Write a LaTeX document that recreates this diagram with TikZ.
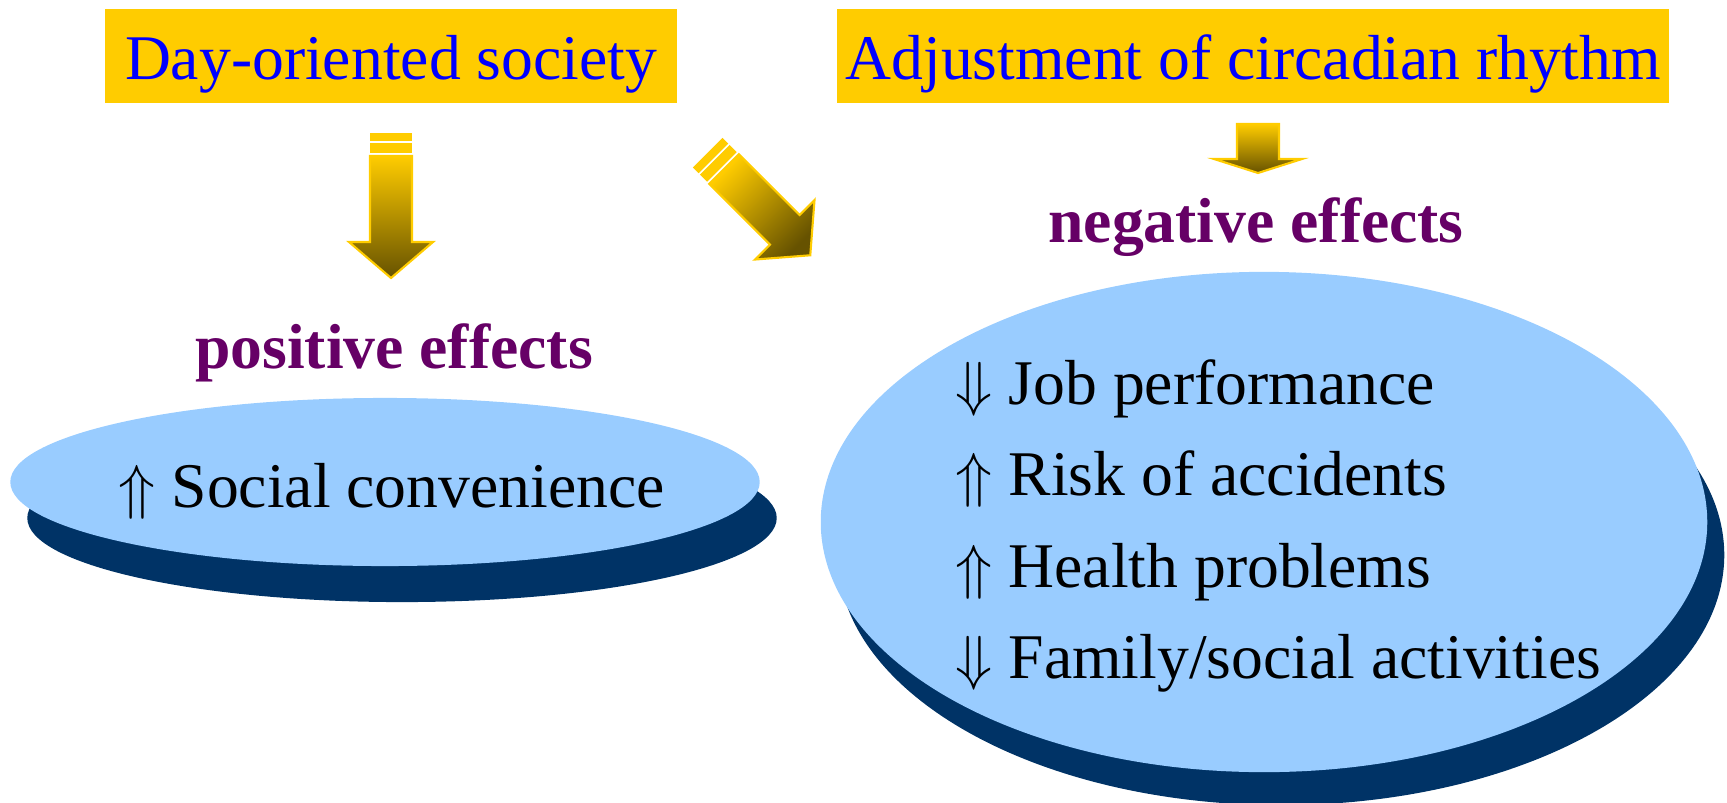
\documentclass[tikz,border=0pt]{standalone}
\usepackage{fontspec}
\setmainfont{Liberation Serif}
\usetikzlibrary{positioning,shapes.geometric,shadows}

\definecolor{gold}{RGB}{255,204,0}
\definecolor{darkgold}{RGB}{102,82,0}
\definecolor{titleblue}{RGB}{0,0,255}
\definecolor{plum}{RGB}{102,0,102}
\definecolor{skyblue}{RGB}{153,204,255}
\definecolor{navy}{RGB}{0,51,102}

% big striped arrow, drawn pointing down from (#1,#2), turned by #3
\newcommand{\goldarrow}[3]{%
	\begin{scope}[shift={(#1,#2)}, rotate=#3]
		\draw[arrowbody, shading angle=#3] (-21,0) -- (21,0) -- (21,86) -- (42,86) -- (0,122) -- (-42,86) -- (-21,86) -- cycle;
		\fill[gold] (-21,-23) rectangle (21,-15);
		\fill[gold] (-21,-13) rectangle (21,-3);
	\end{scope}}

\begin{document}
\begin{tikzpicture}[x=0.01cm, y=-0.01cm, font=\fontsize{18.1}{22}\selectfont,
	titlebox/.style={rectangle, fill=gold, text=titleblue, minimum height=0.94cm, text height=0.6cm, text depth=0.14cm, inner sep=0},
	effect/.style={font=\fontsize{18.1}{22}\selectfont\bfseries, text=plum, anchor=base, inner sep=0},
	item/.style={anchor=base west, inner sep=0},
	oval/.style={ellipse, fill=skyblue, inner sep=0},
	arrowbody/.style={draw=gold, line width=0.6pt, top color=gold, bottom color=darkgold}]

	\useasboundingbox (0,0) rectangle (1727,803);

	\node[titlebox, minimum width=5.72cm] (dayso) at (391,56) {Day-oriented society};
	\node[titlebox, minimum width=8.32cm] (rhythm) at (1253,56) {Adjustment of circadian rhythm};

	% arrows
	\goldarrow{391}{156}{0}
	\goldarrow{724}{169}{45}
	\draw[arrowbody] (1237,124) -- (1279,124) -- (1279,159) -- (1302,159) -- (1258,173) -- (1214,159) -- (1237,159) -- cycle;

	\node[effect] (positive) at (394,368) {positive effects};
	\node[effect] (negative) at (1256,242) {negative effects};

	% ovals with their shadows
	\node[oval, minimum width=7.49cm, minimum height=1.68cm, drop shadow={shadow xshift=0.17cm, shadow yshift=-0.36cm, fill=navy, opacity=1}] (posoval) at (385,482) {};
	\node[oval, minimum width=8.86cm, minimum height=5.0cm, drop shadow={shadow xshift=0.17cm, shadow yshift=-0.33cm, fill=navy, opacity=1}] (negoval) at (1264,522) {};

	\node[item] (social) at (118,507) {$\Uparrow$ Social convenience};

	\node[item] (job) at (955,404) {$\Downarrow$ Job performance};
	\node[item] (risk) at (955,495) {$\Uparrow$ Risk of accidents};
	\node[item] (health) at (955,587) {$\Uparrow$ Health problems};
	\node[item] (family) at (955,678) {$\Downarrow$ Family/social activities};
\end{tikzpicture}
\end{document}
